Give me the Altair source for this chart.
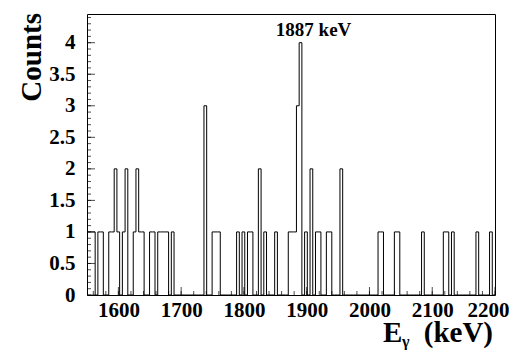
import altair as alt
import pandas as pd

# Histogram definition (150 bins from 1550 to 2200 keV)
X_MIN, X_MAX, N_BINS = 1550, 2200, 150
BIN_WIDTH = (X_MAX - X_MIN) / N_BINS

# non-empty bins (bin index, counts)
bin_index = [0, 1, 2, 4, 5, 8, 9, 10, 11, 13, 14, 17, 18, 19, 20, 23, 24,
             26, 27, 28, 29, 31, 43, 46, 47, 48, 55, 57, 59, 60, 63, 65, 69,
             74, 75, 76, 77, 78, 80, 82, 84, 85, 88, 89, 93, 107, 108, 113,
             114, 123, 131, 132, 134, 143, 148]
bin_count = [1, 1, 1, 1, 1, 1, 1, 2, 1, 1, 2, 1, 2, 1, 1, 1, 1,
             1, 1, 1, 1, 1, 3, 1, 1, 1, 1, 1, 1, 1, 2, 1, 1,
             1, 1, 1, 3, 4, 1, 2, 1, 1, 1, 1, 2, 1, 1, 1,
             1, 1, 1, 1, 1, 1, 1]
assert len(bin_index) == len(bin_count)

x_major = [1600, 1700, 1800, 1900, 2000, 2100, 2200]
x_minor = [1560 + 20 * i for i in range(33)]
y_major = [0, 0.5, 1, 1.5, 2, 2.5, 3, 3.5, 4]
y_minor = [round(0.1 * i, 1) for i in range(45)]

peak_label = "1887 keV"
peak_label_x = 1911
peak_label_y = 4.1

Y_MAX = 4.455
W, H = 408, 281
FONT = "Liberation Serif"

counts = [0] * N_BINS
for i, c in zip(bin_index, bin_count):
    counts[i] = c
edges = [X_MIN + k * BIN_WIDTH for k in range(N_BINS + 1)]
hist = pd.DataFrame({"E": edges, "N": counts + [counts[-1]]})

xscale = alt.Scale(domain=[X_MIN, X_MAX], nice=False, zero=False)
yscale = alt.Scale(domain=[0, Y_MAX], nice=False)

xaxis = alt.Axis(
    values=x_major, format="d", ticks=False, domain=False, grid=False, title=None,
    labelFont=FONT, labelFontSize=21, labelFontWeight="bold",
    labelColor="black", labelPadding=4, labelFlush=False, labelOverlap=False,
    labelOffset={"condition": {"test": "datum.value == 2200", "value": -7}, "value": 0})
yaxis = alt.Axis(
    values=y_major, format="~g", ticks=False, domain=False, grid=False, title=None,
    labelFont=FONT, labelFontSize=21, labelFontWeight="bold",
    labelColor="black", labelPadding=12, labelOverlap=False)

line = alt.Chart(hist).mark_line(
    interpolate="step-after", color="black", strokeWidth=1
).encode(
    x=alt.X("E:Q", scale=xscale, axis=xaxis),
    y=alt.Y("N:Q", scale=yscale, axis=yaxis),
)

def ytick_layer(vals, length):
    return alt.Chart(pd.DataFrame({"v": vals})).mark_tick(
        orient="horizontal", color="black", size=length, thickness=1
    ).encode(y=alt.Y("v:Q", scale=yscale, axis=yaxis), x=alt.value(length / 2))

def xtick_layer(vals, length):
    return alt.Chart(pd.DataFrame({"v": vals})).mark_tick(
        orient="vertical", color="black", size=length, thickness=1
    ).encode(x=alt.X("v:Q", scale=xscale, axis=xaxis), y=alt.value(H - length / 2))

label = alt.Chart(pd.DataFrame({"E": [peak_label_x], "N": [peak_label_y], "t": [peak_label]})).mark_text(
    font=FONT, fontSize=19, fontWeight="bold", color="black", baseline="alphabetic", align="center"
).encode(x=alt.X("E:Q", scale=xscale, axis=xaxis), y=alt.Y("N:Q", scale=yscale, axis=yaxis), text="t:N")

def free_text(txt, x, y, size, align="left", angle=0):
    return alt.Chart(pd.DataFrame({"t": [txt]})).mark_text(
        font=FONT, fontSize=size, fontWeight="bold", color="black",
        align=align, baseline="alphabetic", angle=angle
    ).encode(x=alt.value(x), y=alt.value(y), text="t:N")

title_e = free_text("E", 296, 328, 29)
title_g = free_text("γ", 315, 333, 16)
title_k = free_text("(keV)", 406, 328, 29, align="right")
title_y = free_text("Counts", -46, -1, 29, align="right", angle=270)

chart = alt.layer(
    line,
    ytick_layer(y_minor, 4), ytick_layer(y_major, 8),
    xtick_layer(x_minor, 4), xtick_layer(x_major, 8),
    label, title_e, title_g, title_k, title_y,
).properties(
    width=W, height=H,
    autosize=alt.AutoSizeParams(type="none"),
    padding={"left": 79, "top": 6, "right": 14, "bottom": 55},
    background="white",
).configure_view(stroke="black", strokeWidth=1)

chart.save("out.html", embed_options={"renderer": "svg", "actions": False})
